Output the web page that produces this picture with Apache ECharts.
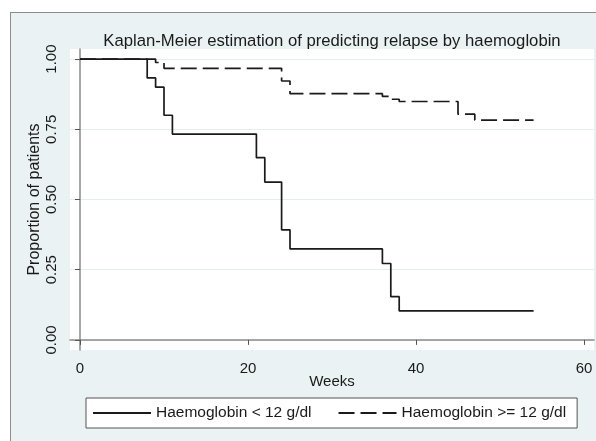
<!DOCTYPE html>
<html>
<head>
<meta charset="utf-8">
<script src="https://cdn.jsdelivr.net/npm/echarts@6/dist/echarts.min.js"></script>
<style>
  html, body { margin: 0; padding: 0; background: #fff; }
  /* outer graph region, runs off the right and bottom edge */
  #frame {
    position: absolute; left: 10px; top: 12px; width: 600px; height: 440px;
    background: #eaf2f3; border-left: 1.5px solid #8c8c8c; border-top: 1.5px solid #8c8c8c;
  }
  #chart { position: absolute; left: 0; top: 0; width: 596px; height: 441px; }
</style>
</head>
<body>
<div id="frame"></div>
<div id="chart"></div>
<script>
// Kaplan-Meier steps: [week, proportion]
const lowHb = [[0, 1], [8, 0.933], [9, 0.9], [10, 0.8], [11, 0.733], [21, 0.649], [22, 0.562],
  [24, 0.392], [25, 0.324], [36, 0.272], [37, 0.154], [38, 0.103], [54, 0.103]];
const highHb = [[0, 1], [9, 0.988], [10, 0.967], [24, 0.922], [25, 0.877], [36, 0.867],
  [37, 0.857], [38, 0.849], [45, 0.804], [47, 0.783], [54, 0.783]];
const seriesNames = ['Haemoglobin < 12 g/dl', 'Haemoglobin >= 12 g/dl'];
const xTicks = [0, 20, 40, 60];
const yTicks = [0, 0.25, 0.5, 0.75, 1];

const chart = echarts.init(document.getElementById('chart'));
const font = 'Liberation Sans, Arial, sans-serif';

chart.setOption({
  backgroundColor: 'transparent',
  animation: false,
  title: {
    text: 'Kaplan-Meier estimation of predicting relapse by haemoglobin',
    left: 327, top: 28, textAlign: 'center',
    textStyle: { fontFamily: font, fontSize: 16.7, fontWeight: 'normal', color: '#1a1a1a' }
  },
  grid: {
    left: 70, right: 2, top: 49, bottom: 91,
    show: true, backgroundColor: '#fff', borderWidth: 0
  },
  xAxis: {
    type: 'value', min: -1.19, max: 61.19,
    name: 'Weeks', nameLocation: 'middle', nameGap: 24, nameMoveOverlap: false,
    nameTextStyle: { fontFamily: font, fontSize: 15, color: '#1a1a1a' },
    axisLine: { lineStyle: { color: '#8a8a8a', width: 1.5 } },
    axisTick: { customValues: xTicks, length: 5, lineStyle: { color: '#555' } },
    axisLabel: { customValues: xTicks, margin: 11, fontFamily: font, fontSize: 15, color: '#1a1a1a' },
    splitLine: { show: false }
  },
  yAxis: {
    type: 'value', min: -0.036, max: 1.036,
    name: 'Proportion of patients', nameLocation: 'middle', nameGap: 27, nameMoveOverlap: false,
    nameTextStyle: { fontFamily: font, fontSize: 16, color: '#1a1a1a' },
    axisLine: { show: true, lineStyle: { color: '#8a8a8a', width: 1.5 } },
    axisTick: { show: true, customValues: yTicks, length: 5, lineStyle: { color: '#555' } },
    axisLabel: {
      customValues: yTicks, rotate: 90, margin: 11, fontFamily: font, fontSize: 15, color: '#1a1a1a',
      formatter: v => v.toFixed(2)
    },
    splitLine: { show: true, lineStyle: { color: '#e4eef0', width: 1 } }
  },
  legend: {
    data: seriesNames,
    left: 86, top: 398,
    padding: [7, 11, 7, 6],
    itemWidth: 58, itemHeight: 14, itemGap: 26,
    itemStyle: { opacity: 0 },
    borderColor: '#555', borderWidth: 1, backgroundColor: '#fff',
    textStyle: { fontFamily: font, fontSize: 15.5, color: '#1a1a1a' }
  },
  series: [
    {
      name: seriesNames[0], type: 'line', step: 'end', data: lowHb,
      symbol: 'none', lineStyle: { color: '#1a1a1a', width: 1.7 }, itemStyle: { color: '#1a1a1a' }
    },
    {
      name: seriesNames[1], type: 'line', step: 'end', data: highHb,
      symbol: 'none', lineStyle: { color: '#1a1a1a', width: 1.7, type: [16, 6] }, itemStyle: { color: '#1a1a1a' }
    }
  ]
});
</script>
</body>
</html>
